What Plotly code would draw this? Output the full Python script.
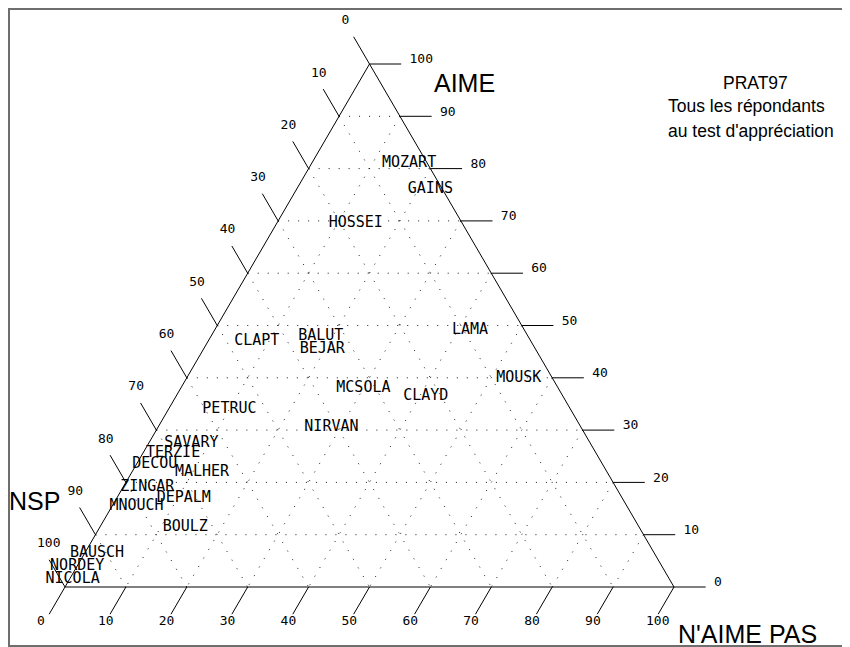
import plotly.graph_objects as go

# ---------------- data (percentages) ----------------
names = ["MOZART", "GAINS", "HOSSEI", "LAMA", "CLAPT", "BALUT", "BEJAR",
         "MCSOLA", "CLAYD", "MOUSK", "PETRUC", "NIRVAN", "SAVARY", "TERZIE",
         "DECOU", "MALHER", "ZINGAR", "DEPALM", "MNOUCH", "BOULZ", "BAUSCH",
         "NORDEY", "NICOLA"]
aime = [81, 76, 69.5, 49, 47, 48, 45.5, 38, 36.5, 40, 34, 30.5, 27.5, 25.5,
        23.5, 22, 19, 17, 15.5, 11.5, 6.5, 4, 1.5]
nsp = [3, 2, 17.5, 9, 45, 34, 35, 32, 22.5, 5.5, 56, 41, 65.5, 69.5,
       73.5, 66.5, 77, 72, 80.5, 74.5, 91.5, 96, 98]
naime_pas = [16, 22, 13, 42, 8, 18, 19.5, 30, 41, 54.5, 10, 28.5, 7, 5,
             3, 11.5, 4, 11, 4, 14, 2, 0, 0.5]

tick_values = [0, 10, 20, 30, 40, 50, 60, 70, 80, 90, 100]
tick_labels = ["0", "10", "20", "30", "40", "50", "60", "70", "80", "90", "100"]
grid_levels = [10, 20, 30, 40, 50, 60, 70, 80, 90]

title_lines = ["PRAT97", "Tous les répondants", "au test d'appréciation"]

# ---------------- layout constants (pixels) ----------------
W, H = 850, 647
OFF = 8                     # page margin around the figure
PX_X, PX_Y = 6.09, 5.23     # pixels per percent (horizontal / vertical)
LEFT_PX, BOTTOM_PX, TOP_PX = 65, 587, 64
TICK_LEN = 5.2
MONO = "DejaVu Sans Mono"
SANS = "Liberation Sans"

XR0 = -(LEFT_PX - OFF) / PX_X
XR1 = XR0 + W / PX_X
YR1 = 100 + (TOP_PX - OFF) / PX_Y
YR0 = YR1 - H / PX_Y


def to_xy(a, b, c):
    """Ternary (AIME top, NSP bottom-left, N'AIME PAS bottom-right) -> plane."""
    s = a + b + c
    return 100 * (c + a / 2) / s, 100 * a / s


def add_segments(fig, segs, dash="solid", color="black"):
    xs, ys = [], []
    for p, q in segs:
        x0, y0 = to_xy(*p)
        x1, y1 = to_xy(*q)
        xs += [x0, x1, None]
        ys += [y0, y1, None]
    fig.add_trace(go.Scatter(x=xs, y=ys, mode="lines",
                             line=dict(color=color, width=1, dash=dash),
                             hoverinfo="skip", showlegend=False,
                             cliponaxis=False))


def add_texts(fig, xs, ys, texts, pos, size):
    fig.add_trace(go.Scatter(x=xs, y=ys, mode="text", text=texts,
                             textposition=pos,
                             textfont=dict(family=MONO, size=size, color="black"),
                             hoverinfo="skip", showlegend=False,
                             cliponaxis=False))


fig = go.Figure()

# dotted grid in the three directions
grid = []
for v in grid_levels:
    grid.append(((v, 100 - v, 0), (v, 0, 100 - v)))        # constant AIME
    grid.append(((100 - v, v, 0), (0, v, 100 - v)))        # constant NSP
    grid.append(((100 - v, 0, v), (0, 100 - v, v)))        # constant N'AIME PAS
add_segments(fig, grid, dash="1px,9px", color="#1a1a1a")

# triangle
add_segments(fig, [((100, 0, 0), (0, 100, 0)),
                   ((0, 100, 0), (0, 0, 100)),
                   ((0, 0, 100), (100, 0, 0))])

# ticks
L = TICK_LEN
ticks = []
for v in tick_values:
    ticks.append(((v, 0, 100 - v), (v, -L, 100 - v + L)))          # AIME
    ticks.append(((100 - v, v, 0), (100 - v + L, v, -L)))          # NSP
    ticks.append(((0, 100 - v, v), (-L, 100 - v + L, v)))          # N'AIME PAS
add_segments(fig, ticks)

# tick labels
ax, ay = [], []
nx, ny = [], []
bx, by = [], []
for v in tick_values:
    x, y = to_xy(v, 0, 100 - v)
    ax.append(x + 40 / PX_X); ay.append(y + 4 / PX_Y)
    x, y = to_xy(100 - v, v, 0)
    nx.append(x - 28 / PX_X); ny.append(y + 43 / PX_Y)
    x, y = to_xy(0, 100 - v, v)
    bx.append(x - 28 / PX_X); by.append(y - 35 / PX_Y)
add_texts(fig, ax, ay, tick_labels, "middle right", 13)
add_texts(fig, nx, ny, tick_labels, "middle right", 13)
add_texts(fig, bx, by, tick_labels, "middle right", 13)

# data labels
pts = [to_xy(a, b, c) for a, b, c in zip(aime, nsp, naime_pas)]
add_texts(fig, [p[0] for p in pts], [p[1] for p in pts], names, "middle center", 15)

fig.update_layout(
    width=W, height=H,
    margin=dict(l=0, r=0, t=0, b=0),
    paper_bgcolor="white", plot_bgcolor="white",
    xaxis=dict(range=[XR0, XR1], visible=False, fixedrange=True),
    yaxis=dict(range=[YR0, YR1], visible=False, fixedrange=True),
    showlegend=False,
)


def px(x):
    return (x - OFF) / W


def py(y):
    return 1 - (y - OFF) / H


def note(text, x, y, size):
    fig.add_annotation(text=text, x=px(x), y=py(y), xref="paper", yref="paper",
                       xanchor="center", yanchor="middle", showarrow=False,
                       font=dict(family=SANS, size=size, color="black"))


note("AIME", 465, 82.5, 25)
note("NSP", 35, 501, 25)
note("N'AIME PAS", 747.5, 634, 25)
for txt, cx, cy in zip(title_lines, [755, 746, 750.5], [83, 106, 131]):
    note(txt, cx, cy, 17.5)

# frame
fig.add_shape(type="rect", xref="paper", yref="paper",
              x0=px(9), x1=1.01, y0=py(646), y1=py(9),
              line=dict(color="#6e6e6e", width=2))

fig.write_html("out.html")
